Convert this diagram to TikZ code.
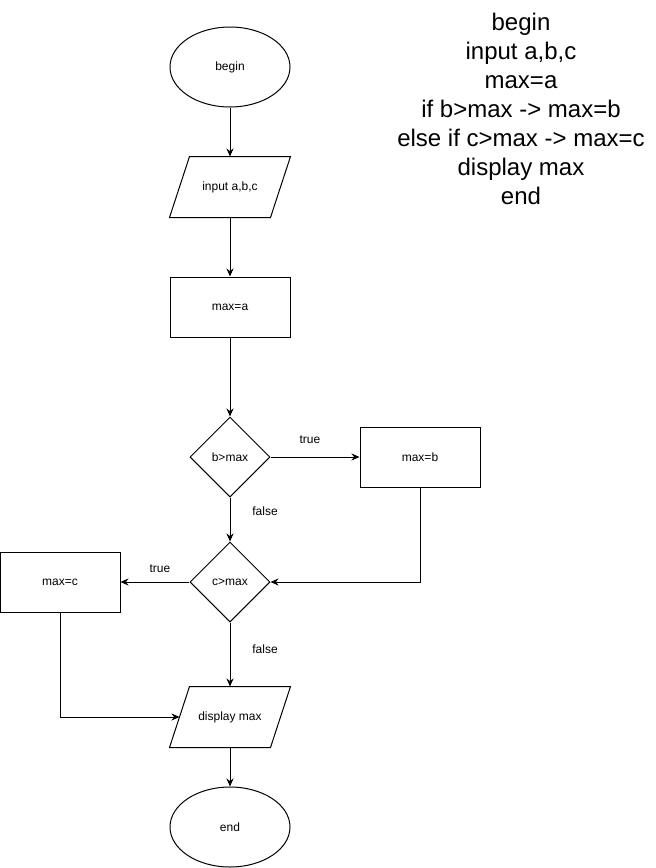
\documentclass[tikz,border=0pt]{standalone}
\usepackage{fontspec}
\setmainfont{Liberation Sans}
\usetikzlibrary{shapes.geometric,arrows.meta}
\begin{document}
\begin{tikzpicture}[x=1pt,y=-1pt,line width=1pt,
  every node/.style={font=\fontsize{12}{14}\selectfont},
  term/.style={draw,ellipse,minimum width=120pt,minimum height=80pt,inner sep=0pt},
  io/.style={rectangle,minimum width=120pt,minimum height=60pt,inner sep=0pt,
    append after command={\pgfextra{\draw ([xshift=20pt]\tikzlastnode.north west) -- (\tikzlastnode.north east) -- ([xshift=-20pt]\tikzlastnode.south east) -- (\tikzlastnode.south west) -- cycle;}}},
  proc/.style={draw,rectangle,minimum width=120pt,minimum height=60pt,inner sep=0pt},
  test/.style={draw,diamond,minimum width=80pt,minimum height=80pt,inner sep=0pt},
  flow/.style={-{Stealth[length=8pt,width=7pt]}}]
\useasboundingbox (0,0) rectangle (656,868);
\node[term] (begin) at (230,67) {begin};
\node[io] (input) at (230,187) {input a,b,c};
\node[proc] (maxa) at (230,307) {max=a};
\node[test] (bmax) at (230,457) {b>max};
\node[proc] (maxb) at (420,457) {max=b};
\node[test] (cmax) at (230,582) {c>max};
\node[proc] (maxc) at (60,582) {max=c};
\node[io] (disp) at (230,717) {display max};
\node[term] (end) at (230,827) {end};
% branch labels
\node (btrue) at (310,440) {true};
\node (bfalse) at (265,511) {false};
\node (ctrue) at (160,569) {true};
\node (cfalse) at (265,649) {false};
% connectors
\draw[flow] (begin) -- (input);
\draw[flow] (input) -- (maxa);
\draw[flow] (maxa) -- (bmax);
\draw[flow] (bmax) -- (maxb);
\draw[flow] (bmax) -- (cmax);
\draw[flow] (maxb) |- (cmax);
\draw[flow] (cmax) -- (maxc);
\draw[flow] (cmax) -- (disp);
\draw[flow] (maxc) |- ([xshift=10pt]disp.west);
\draw[flow] (disp) -- (end);
% pseudocode
\node[align=center,font=\fontsize{24}{29}\selectfont] (code) at (521,109) {begin\\input a,b,c\\max=a\\if b>max -> max=b\\else if c>max -> max=c\\display max\\end};
\end{tikzpicture}
\end{document}
